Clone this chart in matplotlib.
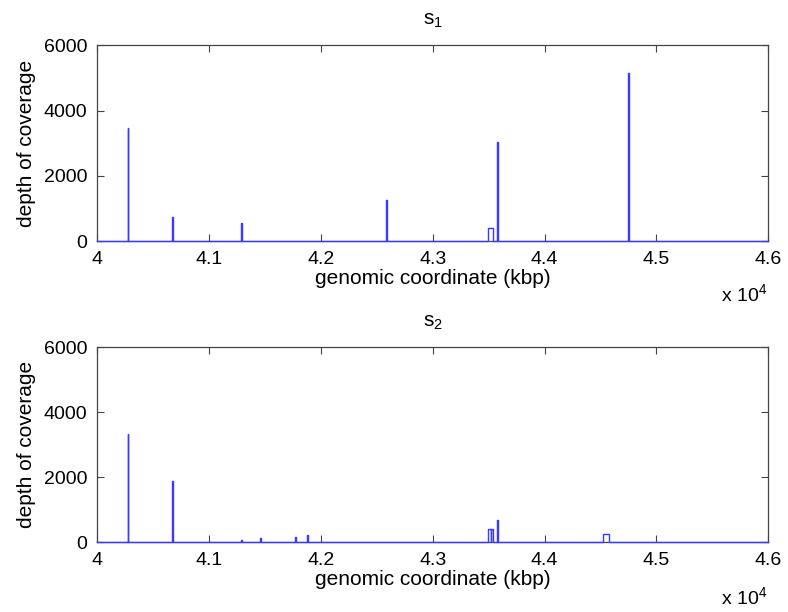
import matplotlib
matplotlib.use('Agg')
import matplotlib.pyplot as plt

# coverage peaks: start / end (bp) and depth
s1_start = [40272, 40672, 41289, 42582, 43497, 43578, 44747]
s1_end = [40277, 40676, 41293, 42586, 43536, 43582, 44751]
s1_depth = [3480, 730, 560, 1250, 400, 3030, 5150]

s2_start = [40272, 40672, 41289, 41459, 41769, 41876, 42582, 43497, 43516, 43578, 44525]
s2_end = [40277, 40676, 41293, 41463, 41773, 41880, 42586, 43516, 43536, 43582, 44579]
s2_depth = [3330, 1890, 70, 120, 150, 230, 20, 420, 400, 700, 250]

x_min, x_max = 40000, 46000
y_ticks = [0, 2000, 4000, 6000]
x_ticks = [40000, 41000, 42000, 43000, 44000, 45000, 46000]
x_ticklabels = ['4', '4.1', '4.2', '4.3', '4.4', '4.5', '4.6']
titles = [r'$\mathregular{s_1}$', r'$\mathregular{s_2}$']

plt.rcParams['font.family'] = ['Liberation Sans', 'DejaVu Sans']
plt.rcParams['mathtext.fontset'] = 'custom'
plt.rcParams['mathtext.rm'] = 'Liberation Sans'


def step_line(starts, ends, depths):
    xs, ys = [x_min], [0]
    for a, b, h in zip(starts, ends, depths):
        xs += [a, a, b, b]
        ys += [0, h, h, 0]
    xs.append(x_max)
    ys.append(0)
    return xs, ys


fig = plt.figure(figsize=(7.88, 6.12), dpi=100)
ax1 = fig.add_axes([0.1235, 0.6062, 0.8515, 0.3195])
ax2 = fig.add_axes([0.1235, 0.1139, 0.8515, 0.3186])

for ax, data, title in [(ax1, (s1_start, s1_end, s1_depth), titles[0]),
                        (ax2, (s2_start, s2_end, s2_depth), titles[1])]:
    xs, ys = step_line(*data)
    ax.plot(xs, ys, color='#3a3aff', lw=1.0, zorder=3, clip_on=False)
    ax.set_xlim(x_min, x_max)
    ax.set_ylim(0, 6000)
    ax.set_yticks(y_ticks)
    ax.set_xticks(x_ticks)
    ax.set_xticklabels(x_ticklabels)
    ax.tick_params(direction='in', top=True, right=True, length=5,
                   width=0.8, color='#444444', labelsize=14, pad=7)
    for sp in ax.spines.values():
        sp.set_color('#444444')
        sp.set_linewidth(0.9)
    ax.set_xlabel('genomic coordinate (kbp)', fontsize=15, labelpad=1)
    ax.set_ylabel('depth of coverage', fontsize=15, labelpad=6)
    ax.set_title(title, fontsize=15, pad=15)

fig.text(0.973, 1 - 302 / 612, r'x 10$^{4}$', fontsize=14, ha='right', va='baseline')
fig.text(0.973, 1 - 605 / 612, r'x 10$^{4}$', fontsize=14, ha='right', va='baseline')

fig.savefig('out.png', dpi=100)
